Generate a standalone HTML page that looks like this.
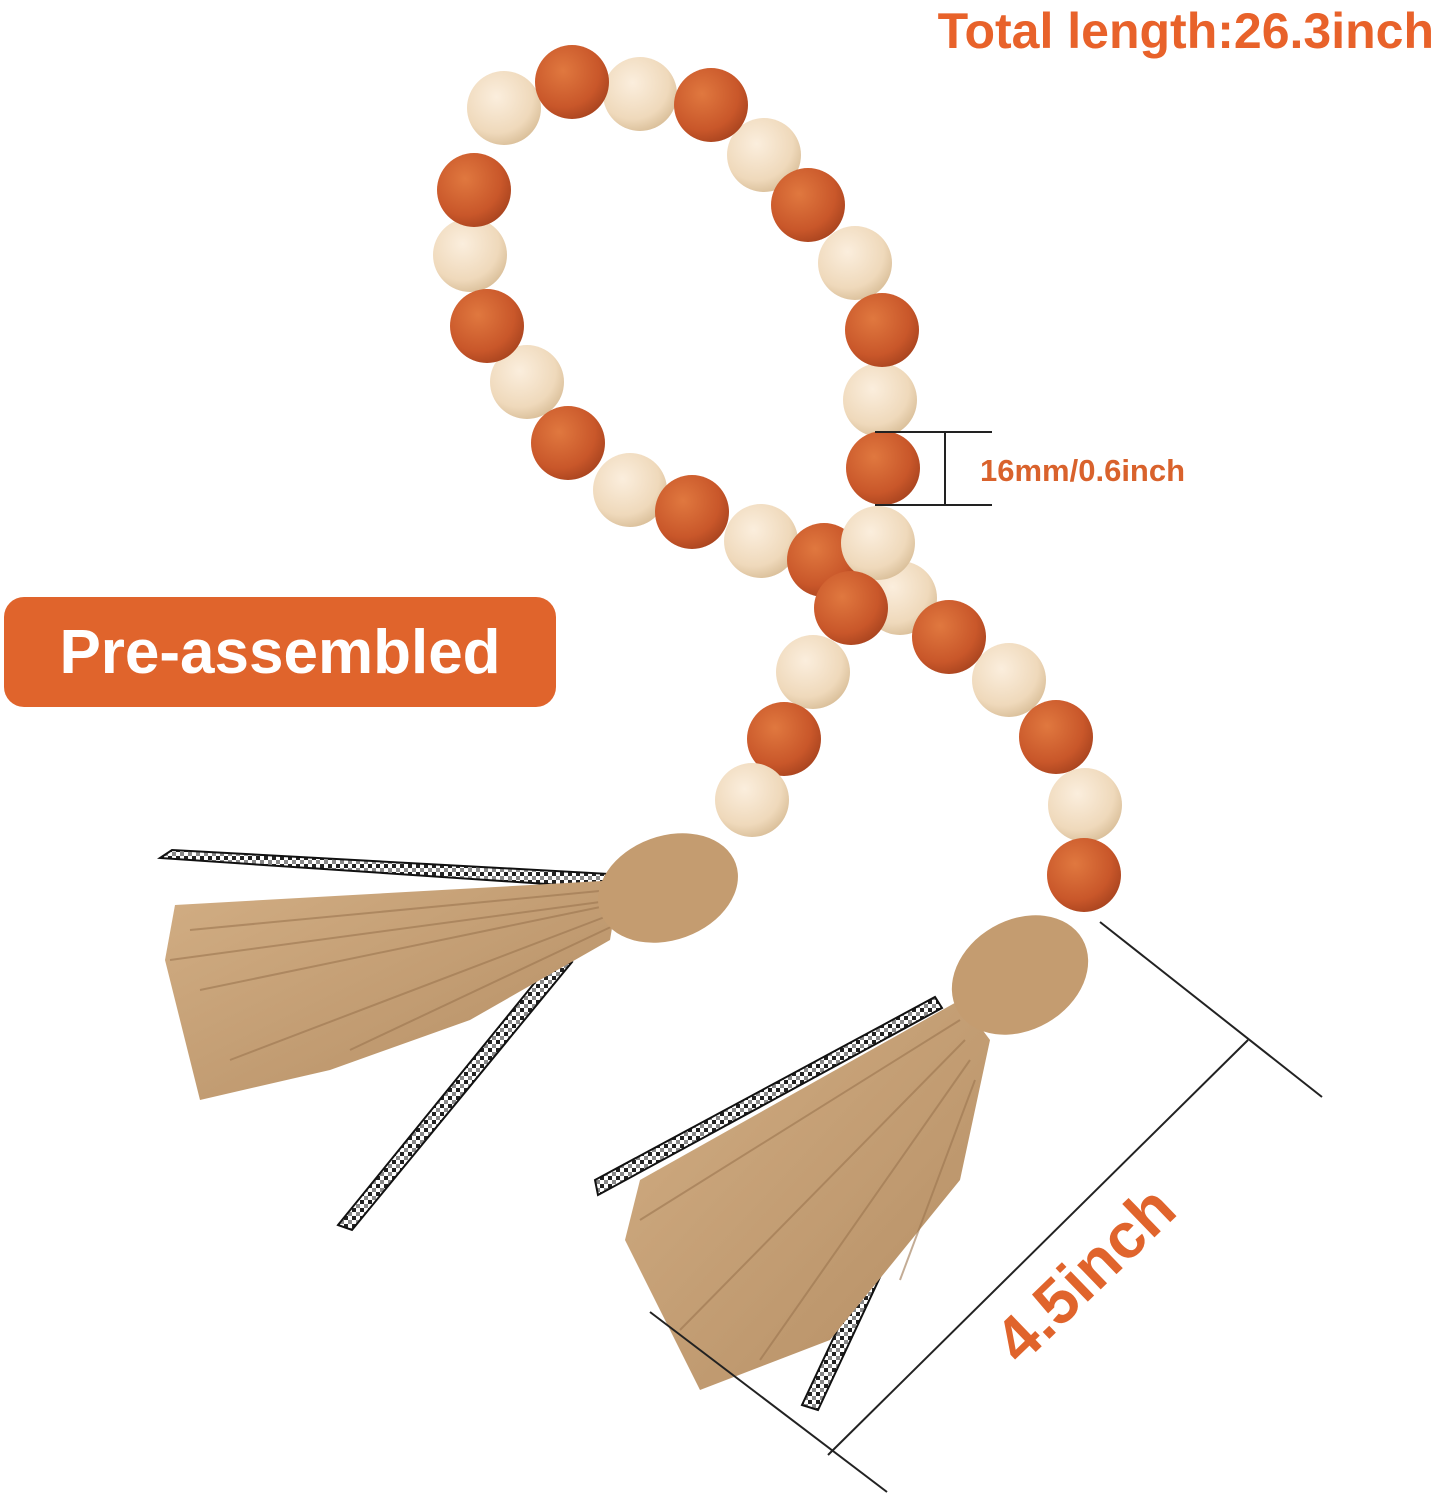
<!DOCTYPE html>
<html><head><meta charset="utf-8"><style>
html,body{margin:0;padding:0;background:#fff;}
svg{display:block}
</style></head><body>
<svg width="1438" height="1500" viewBox="0 0 1438 1500" xmlns="http://www.w3.org/2000/svg">
<defs>
<radialGradient id="og" cx="0.38" cy="0.35" r="0.7">
<stop offset="0" stop-color="#e0783f"/><stop offset="0.7" stop-color="#c9572a"/><stop offset="1" stop-color="#a9441f"/></radialGradient>
<radialGradient id="cg" cx="0.4" cy="0.35" r="0.7">
<stop offset="0" stop-color="#fbeedd"/><stop offset="0.7" stop-color="#efd9bb"/><stop offset="1" stop-color="#d8bd97"/></radialGradient>
<linearGradient id="jute" x1="0" y1="0" x2="1" y2="1">
<stop offset="0" stop-color="#d2ae84"/><stop offset="1" stop-color="#b48d63"/></linearGradient>
<pattern id="check" width="8" height="8" patternUnits="userSpaceOnUse">
<rect width="8" height="8" fill="#fff"/><rect width="4" height="4" fill="#222"/><rect x="4" y="4" width="4" height="4" fill="#888"/></pattern>
</defs>

<g stroke="#111" stroke-width="2" fill="url(#check)">
<polygon points="160,858 172,850 610,874 606,888"/>
<polygon points="338,1225 352,1230 572,962 558,954"/>
<polygon points="595,1180 598,1195 942,1008 935,997"/>
<polygon points="802,1405 818,1410 958,1110 944,1103"/>
</g>

<polygon points="620,880 175,905 165,960 200,1100 330,1070 470,1020 610,940" fill="url(#jute)"/>
<g stroke="#9c7650" stroke-width="2" fill="none" opacity="0.6">
<path d="M610,890 L190,930"/><path d="M610,905 L200,990"/><path d="M610,915 L230,1060"/><path d="M615,925 L350,1050"/><path d="M615,900 L170,960"/>
</g>
<ellipse cx="668" cy="888" rx="72" ry="52" fill="#c49c70" transform="rotate(-20 668 888)"/>

<polygon points="960,1000 640,1180 625,1240 700,1390 830,1340 960,1180 990,1040" fill="url(#jute)"/>
<g stroke="#9c7650" stroke-width="2" fill="none" opacity="0.6">
<path d="M960,1020 L640,1220"/><path d="M965,1040 L680,1330"/><path d="M970,1060 L760,1360"/><path d="M975,1080 L900,1280"/>
</g>
<ellipse cx="1020" cy="975" rx="72" ry="55" fill="#c49c70" transform="rotate(-30 1020 975)"/>

<g>
<circle cx="504" cy="108" r="37" fill="url(#cg)"/>
<circle cx="640" cy="94" r="37" fill="url(#cg)"/>
<circle cx="764" cy="155" r="37" fill="url(#cg)"/>
<circle cx="470" cy="255" r="37" fill="url(#cg)"/>
<circle cx="855" cy="263" r="37" fill="url(#cg)"/>
<circle cx="527" cy="382" r="37" fill="url(#cg)"/>
<circle cx="880" cy="400" r="37" fill="url(#cg)"/>
<circle cx="630" cy="490" r="37" fill="url(#cg)"/>
<circle cx="761" cy="541" r="37" fill="url(#cg)"/>
<circle cx="572" cy="82" r="37" fill="url(#og)"/>
<circle cx="711" cy="105" r="37" fill="url(#og)"/>
<circle cx="474" cy="190" r="37" fill="url(#og)"/>
<circle cx="808" cy="205" r="37" fill="url(#og)"/>
<circle cx="487" cy="326" r="37" fill="url(#og)"/>
<circle cx="882" cy="330" r="37" fill="url(#og)"/>
<circle cx="568" cy="443" r="37" fill="url(#og)"/>
<circle cx="692" cy="512" r="37" fill="url(#og)"/>
<circle cx="824" cy="560" r="37" fill="url(#og)"/>
<circle cx="900" cy="598" r="37" fill="url(#cg)"/>
<circle cx="883" cy="468" r="37" fill="url(#og)"/>
<circle cx="878" cy="543" r="37" fill="url(#cg)"/>
<circle cx="851" cy="608" r="37" fill="url(#og)"/>
<circle cx="949" cy="637" r="37" fill="url(#og)"/>
<circle cx="813" cy="672" r="37" fill="url(#cg)"/>
<circle cx="1009" cy="680" r="37" fill="url(#cg)"/>
<circle cx="784" cy="739" r="37" fill="url(#og)"/>
<circle cx="1056" cy="737" r="37" fill="url(#og)"/>
<circle cx="752" cy="800" r="37" fill="url(#cg)"/>
<circle cx="1085" cy="805" r="37" fill="url(#cg)"/>
<circle cx="1084" cy="875" r="37" fill="url(#og)"/>
</g>

<g stroke="#222" stroke-width="2">
<line x1="875" y1="432" x2="992" y2="432"/>
<line x1="875" y1="505" x2="992" y2="505"/>
<line x1="945" y1="432" x2="945" y2="505"/>
</g>
<text x="980" y="481" font-family="Liberation Sans, sans-serif" font-size="31" fill="#d9622c" font-weight="bold">16mm/0.6inch</text>

<g stroke="#222" stroke-width="2">
<line x1="1100" y1="922" x2="1322" y2="1097"/>
<line x1="650" y1="1312" x2="887" y2="1492"/>
<line x1="1248" y1="1040" x2="828" y2="1455"/>
</g>
<text transform="translate(1100,1290) rotate(-44)" text-anchor="middle" font-family="Liberation Sans, sans-serif" font-size="64" font-weight="bold" fill="#e0642c">4.5inch</text>

<text x="1434" y="48" text-anchor="end" font-family="Liberation Sans, sans-serif" font-size="50" font-weight="bold" fill="#e8622a">Total length:26.3inch</text>

<rect x="4" y="597" width="552" height="110" rx="20" fill="#e0642c"/>
<text x="280" y="673" text-anchor="middle" font-family="Liberation Sans, sans-serif" font-size="62" font-weight="bold" fill="#fff">Pre-assembled</text>
</svg>
</body></html>
